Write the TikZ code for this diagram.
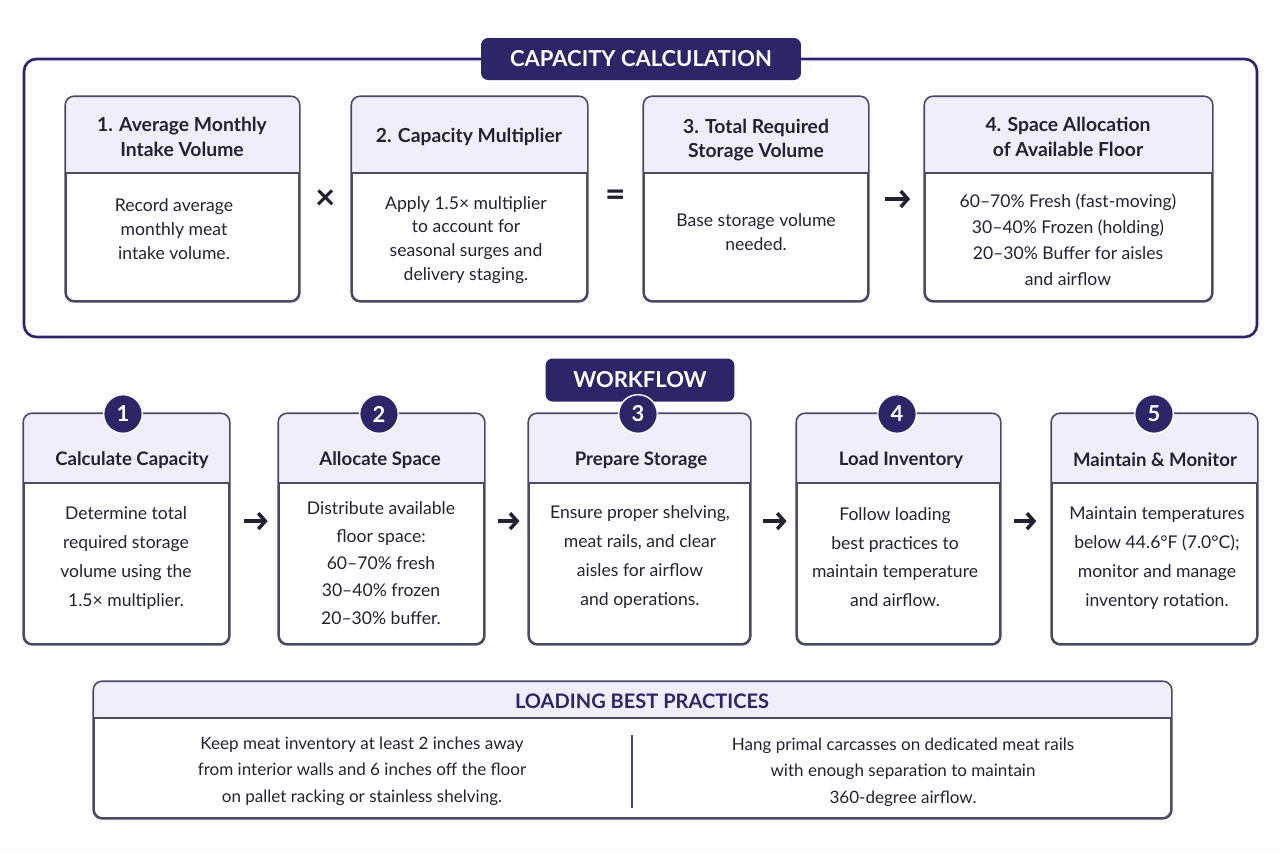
\documentclass[tikz,border=0pt]{standalone}
\usepackage{fontspec}
\setmainfont{Lato}
\usepackage{tikz}
\usetikzlibrary{positioning,calc,fit,arrows.meta}
\usepackage{xcolor}

\definecolor{navy}{HTML}{2C2668}
\definecolor{lav}{HTML}{EFEEFA}
\definecolor{edge}{HTML}{4B4A66}
\definecolor{ink}{HTML}{222232}
\definecolor{paper}{HTML}{FDFDFF}

\tikzset{
  card/.style={draw=edge, line width=0.9pt, rounded corners=5pt, fill=white, inner sep=0pt},
  cardline/.style={draw=edge, line width=0.9pt},
  banner/.style={fill=navy, rounded corners=4pt, text=white, font=\fontsize{12.5}{14}\selectfont\bfseries},
  headtxt/.style={align=center, text=ink, font=\fontsize{11}{13.8}\selectfont\bfseries},
  bodytxt/.style={align=center, text=ink, font=\fontsize{10}{13.6}\selectfont},
  flowtxt/.style={align=center, text=ink, font=\fontsize{10}{16.4}\selectfont},
  looktxt/.style={align=center, text=ink, font=\fontsize{9.7}{15}\selectfont},
  numdot/.style={circle, fill=navy, draw=white, line width=0.8pt, minimum size=22pt, inner sep=0pt, text=white, font=\fontsize{12.5}{13}\selectfont\bfseries},
  optxt/.style={text=ink, font=\fontsize{20}{20}\selectfont\bfseries},
  arr/.style={draw=ink, line width=2pt, -{Straight Barb[length=4pt,width=9pt]}}
}

% card with a tinted head band: name, x1, y1, x2, y2, divider
\newcommand{\cardbox}[6]{%
  \node[card, fit={(#2,#3) (#4,#5)}] (#1) {};
  \begin{scope}
    \clip[rounded corners=5pt] (#1.south west) rectangle (#1.north east);
    \fill[lav] (#1.north west) rectangle (#4,#6);
  \end{scope}
  \draw[cardline] (#2,#6) -- (#4,#6);
  \draw[cardline, rounded corners=5pt] (#1.south west) rectangle (#1.north east);
}

\begin{document}
\begin{tikzpicture}[x=0.02cm, y=-0.02cm]
\fill[paper] (0,0) rectangle (1280,853);
\useasboundingbox (0,0) rectangle (1280,853);

% capacity calculation
\draw[navy, line width=1.5pt, rounded corners=7pt] (24,59) rectangle (1257,337);
\node[banner, minimum width=6.4cm, minimum height=0.84cm] (capban) at (641,59) {CAPACITY CALCULATION};

\cardbox{c1}{66}{97}{299}{301}{173}
\cardbox{c2}{352}{97}{587}{301}{173}
\cardbox{c3}{644}{97}{868}{301}{173}
\cardbox{c4}{925}{97}{1212}{301}{173}

\node[headtxt] (c1h) at (182,137) {1. Average Monthly\\Intake Volume};
\node[headtxt] (c2h) at (469,137) {2. Capacity Multiplier};
\node[headtxt] (c3h) at (756,140) {3. Total Required\\Storage Volume};
\node[headtxt] (c4h) at (1068,137) {4. Space Allocation\\of Available Floor};

\node[bodytxt] (c1b) at (174,229) {Record average\\monthly meat\\intake volume.};
\node[bodytxt] (c2b) at (466,240) {Apply 1.5× multiplier\\to account for\\seasonal surges and\\delivery staging.};
\node[bodytxt] (c3b) at (756,232) {Base storage volume\\needed.};
\node[bodytxt, font=\fontsize{10}{14.8}\selectfont] (c4b) at (1068,240) {60–70\% Fresh (fast-moving)\\30–40\% Frozen (holding)\\20–30\% Buffer for aisles\\and airflow};

\node[optxt] (mul) at (326,200) {×};
\node[optxt] (eq) at (616,198) {=};
\draw[arr, shorten <=9pt, shorten >=8pt] (c3.east) -- (c4.west);

% workflow
\node[banner, minimum width=3.78cm, minimum height=0.86cm] (flowban) at (640,380) {WORKFLOW};

\cardbox{w1}{24}{414}{229}{644}{483}
\cardbox{w2}{279}{414}{484}{644}{483}
\cardbox{w3}{529}{414}{750}{644}{483}
\cardbox{w4}{797}{414}{1000}{644}{483}
\cardbox{w5}{1052}{414}{1257}{644}{483}

\node[numdot] (n1) at (123,414) {1};
\node[numdot] (n2) at (379,414) {2};
\node[numdot] (n3) at (638,414) {3};
\node[numdot] (n4) at (897,414) {4};
\node[numdot] (n5) at (1154,414) {5};

\node[headtxt, font=\fontsize{10.6}{13}\selectfont\bfseries] (w1h) at (132,460) {Calculate Capacity};
\node[headtxt, font=\fontsize{10.6}{13}\selectfont\bfseries] (w2h) at (380,460) {Allocate Space};
\node[headtxt, font=\fontsize{10.6}{13}\selectfont\bfseries] (w3h) at (641,460) {Prepare Storage};
\node[headtxt, font=\fontsize{10.6}{13}\selectfont\bfseries] (w4h) at (901,460) {Load Inventory};
\node[headtxt, font=\fontsize{10.6}{13}\selectfont\bfseries] (w5h) at (1155,460) {Maintain \& Monitor};

\node[flowtxt] (w1b) at (126,558) {Determine total\\required storage\\volume using the\\1.5× multiplier.};
\node[flowtxt, font=\fontsize{10}{15.6}\selectfont] (w2b) at (381,563) {Distribute available\\floor space:\\60–70\% fresh\\30–40\% frozen\\20–30\% buffer.};
\node[flowtxt] (w3b) at (640,557) {Ensure proper shelving,\\meat rails, and clear\\aisles for airflow\\and operations.};
\node[flowtxt] (w4b) at (895,557) {Follow loading\\best practices to\\maintain temperature\\and airflow.};
\node[flowtxt] (w5b) at (1157,558) {Maintain temperatures\\below 44.6°F (7.0°C);\\monitor and manage\\inventory rotation.};

\draw[arr, shorten <=8pt, shorten >=6pt] ([yshift=4.5pt]w1.east) -- ([yshift=4.5pt]w2.west);
\draw[arr, shorten <=7.5pt, shorten >=5pt] ([yshift=4.5pt]w2.east) -- ([yshift=4.5pt]w3.west);
\draw[arr, shorten <=7pt, shorten >=5.5pt] ([yshift=4.5pt]w3.east) -- ([yshift=4.5pt]w4.west);
\draw[arr, shorten <=7.5pt, shorten >=8.5pt] ([yshift=4.5pt]w4.east) -- ([yshift=4.5pt]w5.west);

% loading best practices
\cardbox{lbp}{94}{682}{1171}{818}{718}
\node[headtxt, text=navy, font=\fontsize{11.4}{12}\selectfont\bfseries] (lbph) at (642,701) {LOADING BEST PRACTICES};
\draw[cardline, line width=0.7pt] (632,735) -- (632,808);
\node[looktxt] (lbpl) at (362,771) {Keep meat inventory at least 2 inches away\\from interior walls and 6 inches off the floor\\on pallet racking or stainless shelving.};
\node[looktxt] (lbpr) at (903,772) {Hang primal carcasses on dedicated meat rails\\with enough separation to maintain\\360-degree airflow.};
\end{tikzpicture}
\end{document}
